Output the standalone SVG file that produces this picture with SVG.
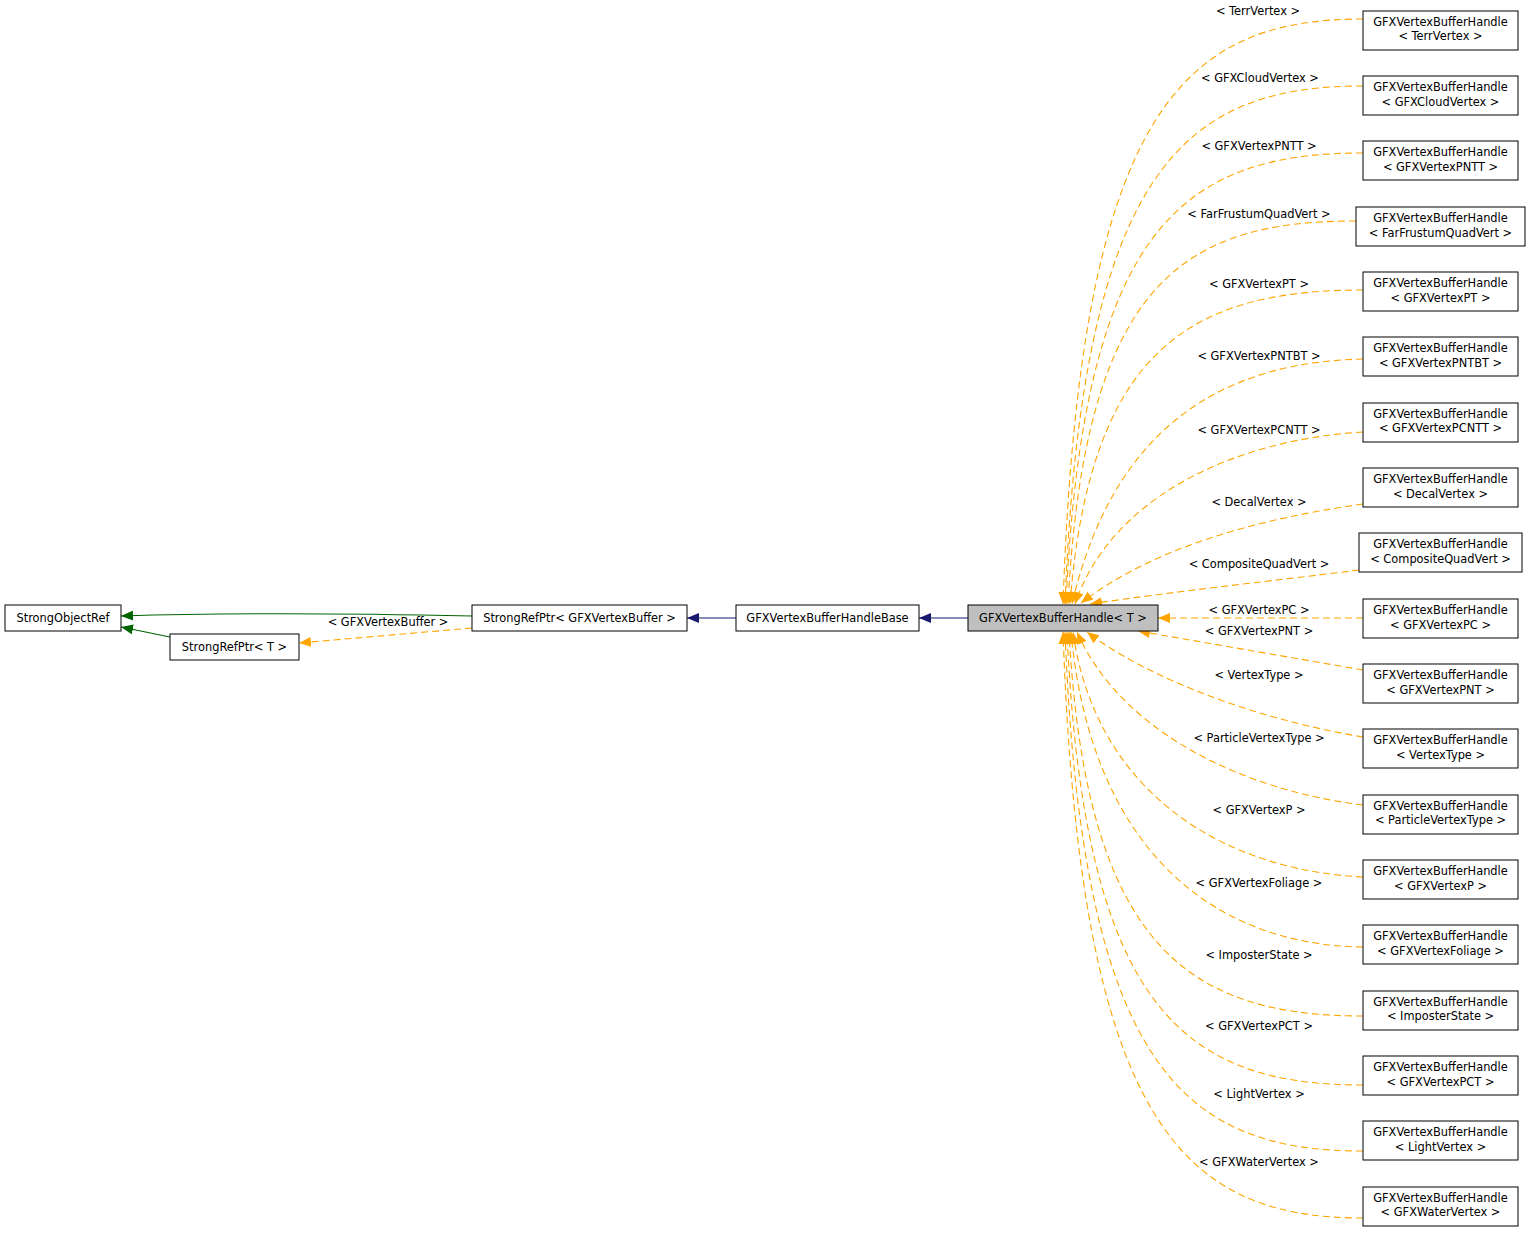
<svg xmlns="http://www.w3.org/2000/svg" width="1531" height="1233" viewBox="0 0 1531 1233">
<style>
text{font-family:"DejaVu Sans","Liberation Sans",sans-serif;font-size:11.4px;fill:#000;text-anchor:middle}
.box{fill:#fff;stroke:#000;stroke-width:1}
.cur{fill:#bfbfbf;stroke:#000;stroke-width:1}
.o{fill:none;stroke:#ffa500;stroke-width:1.1;stroke-dasharray:7,4;marker-end:url(#ao)}
.b{fill:none;stroke:#191970;stroke-width:1.1;marker-end:url(#ab)}
.g{fill:none;stroke:#006400;stroke-width:1.1;marker-end:url(#ag)}
</style>
<defs>
<marker id="ao" markerUnits="userSpaceOnUse" markerWidth="14" markerHeight="10" refX="12" refY="5" orient="auto"><path d="M0,0 L12,5 L0,10 z" fill="#ffa500"/></marker>
<marker id="ab" markerUnits="userSpaceOnUse" markerWidth="14" markerHeight="10" refX="12" refY="5" orient="auto"><path d="M0,0 L12,5 L0,10 z" fill="#191970"/></marker>
<marker id="ag" markerUnits="userSpaceOnUse" markerWidth="14" markerHeight="10" refX="12" refY="5" orient="auto"><path d="M0,0 L12,5 L0,10 z" fill="#006400"/></marker>
</defs>
<rect width="1531" height="1233" fill="#fff"/>
<g id="connectors">
<path class="b" d="M968,618 L919,618"/>
<path class="b" d="M736,618 L687,618"/>
<path class="g" d="M472,616 C380,614 250,612 121,616"/>
<path class="g" d="M170,637 L121,627"/>
<path class="o" d="M472,628 L299,643"/>
<text x="388" y="626">&lt; GFXVertexBuffer &gt;</text>
<path class="o" d="M1363,19 C1183,19 1080,110 1063,604"/>
<path class="o" d="M1363,86 C1184,86 1082,169 1065,604"/>
<path class="o" d="M1363,153 C1185,153 1083,225 1066,604"/>
<path class="o" d="M1356,221 C1183,221 1085,282 1068,604"/>
<path class="o" d="M1363,290 C1190,290 1090,350 1070,604"/>
<path class="o" d="M1363,359 C1230,362 1115,420 1072,604"/>
<path class="o" d="M1363,432 C1230,440 1110,500 1075,604"/>
<path class="o" d="M1363,504 C1250,520 1150,550 1081,603"/>
<path class="o" d="M1359,570 C1280,580 1170,592 1090,604"/>
<path class="o" d="M1363,618 L1158,618"/>
<path class="o" d="M1363,670 L1138,631"/>
<path class="o" d="M1363,737 C1260,720 1150,680 1087,632"/>
<path class="o" d="M1363,805 C1240,790 1120,730 1077,632"/>
<path class="o" d="M1363,877 C1220,870 1095,790 1073,632"/>
<path class="o" d="M1363,947 C1205,945 1090,840 1071,632"/>
<path class="o" d="M1363,1016 C1187,1016 1086,945 1069,632"/>
<path class="o" d="M1363,1085 C1185,1085 1084,1010 1067,632"/>
<path class="o" d="M1363,1151 C1184,1151 1082,1068 1065,632"/>
<path class="o" d="M1363,1218 C1183,1218 1080,1124 1063,632"/>
<text x="1258" y="15">&lt; TerrVertex &gt;</text>
<text x="1260" y="82">&lt; GFXCloudVertex &gt;</text>
<text x="1259" y="150">&lt; GFXVertexPNTT &gt;</text>
<text x="1259" y="218">&lt; FarFrustumQuadVert &gt;</text>
<text x="1259" y="288">&lt; GFXVertexPT &gt;</text>
<text x="1259" y="360">&lt; GFXVertexPNTBT &gt;</text>
<text x="1259" y="434">&lt; GFXVertexPCNTT &gt;</text>
<text x="1259" y="506">&lt; DecalVertex &gt;</text>
<text x="1259" y="568">&lt; CompositeQuadVert &gt;</text>
<text x="1259" y="614">&lt; GFXVertexPC &gt;</text>
<text x="1259" y="635">&lt; GFXVertexPNT &gt;</text>
<text x="1259" y="679">&lt; VertexType &gt;</text>
<text x="1259" y="742">&lt; ParticleVertexType &gt;</text>
<text x="1259" y="814">&lt; GFXVertexP &gt;</text>
<text x="1259" y="887">&lt; GFXVertexFoliage &gt;</text>
<text x="1259" y="959">&lt; ImposterState &gt;</text>
<text x="1259" y="1030">&lt; GFXVertexPCT &gt;</text>
<text x="1259" y="1098">&lt; LightVertex &gt;</text>
<text x="1259" y="1166">&lt; GFXWaterVertex &gt;</text>
</g>
<g id="StrongObjectRef"><rect class="box" x="5" y="605" width="116" height="26"/><text x="63" y="622">StrongObjectRef</text></g>
<g id="StrongRefPtrT"><rect class="box" x="170" y="634" width="129" height="26"/><text x="234.5" y="651">StrongRefPtr&lt; T &gt;</text></g>
<g id="StrongRefPtrGFX"><rect class="box" x="472" y="605" width="215" height="26"/><text x="579.5" y="622">StrongRefPtr&lt; GFXVertexBuffer &gt;</text></g>
<g id="HandleBase"><rect class="box" x="736" y="605" width="183" height="26"/><text x="827.5" y="622">GFXVertexBufferHandleBase</text></g>
<g id="HandleT"><rect class="cur" x="968" y="605" width="190" height="26"/><text x="1063" y="622">GFXVertexBufferHandle&lt; T &gt;</text></g>
<g id="n1"><rect class="box" x="1363" y="11" width="155" height="39"/><text x="1440.5" y="26">GFXVertexBufferHandle</text><text x="1440.5" y="40">&lt; TerrVertex &gt;</text></g>
<g id="n2"><rect class="box" x="1363" y="76" width="155" height="39"/><text x="1440.5" y="91">GFXVertexBufferHandle</text><text x="1440.5" y="106">&lt; GFXCloudVertex &gt;</text></g>
<g id="n3"><rect class="box" x="1363" y="141" width="155" height="39"/><text x="1440.5" y="156">GFXVertexBufferHandle</text><text x="1440.5" y="171">&lt; GFXVertexPNTT &gt;</text></g>
<g id="n4"><rect class="box" x="1356" y="207" width="169" height="39"/><text x="1440.5" y="222">GFXVertexBufferHandle</text><text x="1440.5" y="237">&lt; FarFrustumQuadVert &gt;</text></g>
<g id="n5"><rect class="box" x="1363" y="272" width="155" height="39"/><text x="1440.5" y="287">GFXVertexBufferHandle</text><text x="1440.5" y="302">&lt; GFXVertexPT &gt;</text></g>
<g id="n6"><rect class="box" x="1363" y="337" width="155" height="39"/><text x="1440.5" y="352">GFXVertexBufferHandle</text><text x="1440.5" y="367">&lt; GFXVertexPNTBT &gt;</text></g>
<g id="n7"><rect class="box" x="1363" y="403" width="155" height="39"/><text x="1440.5" y="418">GFXVertexBufferHandle</text><text x="1440.5" y="432">&lt; GFXVertexPCNTT &gt;</text></g>
<g id="n8"><rect class="box" x="1363" y="468" width="155" height="39"/><text x="1440.5" y="483">GFXVertexBufferHandle</text><text x="1440.5" y="498">&lt; DecalVertex &gt;</text></g>
<g id="n9"><rect class="box" x="1359" y="533" width="163" height="39"/><text x="1440.5" y="548">GFXVertexBufferHandle</text><text x="1440.5" y="563">&lt; CompositeQuadVert &gt;</text></g>
<g id="n10"><rect class="box" x="1363" y="599" width="155" height="39"/><text x="1440.5" y="614">GFXVertexBufferHandle</text><text x="1440.5" y="629">&lt; GFXVertexPC &gt;</text></g>
<g id="n11"><rect class="box" x="1363" y="664" width="155" height="39"/><text x="1440.5" y="679">GFXVertexBufferHandle</text><text x="1440.5" y="694">&lt; GFXVertexPNT &gt;</text></g>
<g id="n12"><rect class="box" x="1363" y="729" width="155" height="39"/><text x="1440.5" y="744">GFXVertexBufferHandle</text><text x="1440.5" y="759">&lt; VertexType &gt;</text></g>
<g id="n13"><rect class="box" x="1363" y="795" width="155" height="39"/><text x="1440.5" y="810">GFXVertexBufferHandle</text><text x="1440.5" y="824">&lt; ParticleVertexType &gt;</text></g>
<g id="n14"><rect class="box" x="1363" y="860" width="155" height="39"/><text x="1440.5" y="875">GFXVertexBufferHandle</text><text x="1440.5" y="890">&lt; GFXVertexP &gt;</text></g>
<g id="n15"><rect class="box" x="1363" y="925" width="155" height="39"/><text x="1440.5" y="940">GFXVertexBufferHandle</text><text x="1440.5" y="955">&lt; GFXVertexFoliage &gt;</text></g>
<g id="n16"><rect class="box" x="1363" y="991" width="155" height="39"/><text x="1440.5" y="1006">GFXVertexBufferHandle</text><text x="1440.5" y="1020">&lt; ImposterState &gt;</text></g>
<g id="n17"><rect class="box" x="1363" y="1056" width="155" height="39"/><text x="1440.5" y="1071">GFXVertexBufferHandle</text><text x="1440.5" y="1086">&lt; GFXVertexPCT &gt;</text></g>
<g id="n18"><rect class="box" x="1363" y="1121" width="155" height="39"/><text x="1440.5" y="1136">GFXVertexBufferHandle</text><text x="1440.5" y="1151">&lt; LightVertex &gt;</text></g>
<g id="n19"><rect class="box" x="1363" y="1187" width="155" height="39"/><text x="1440.5" y="1202">GFXVertexBufferHandle</text><text x="1440.5" y="1216">&lt; GFXWaterVertex &gt;</text></g>
</svg>
